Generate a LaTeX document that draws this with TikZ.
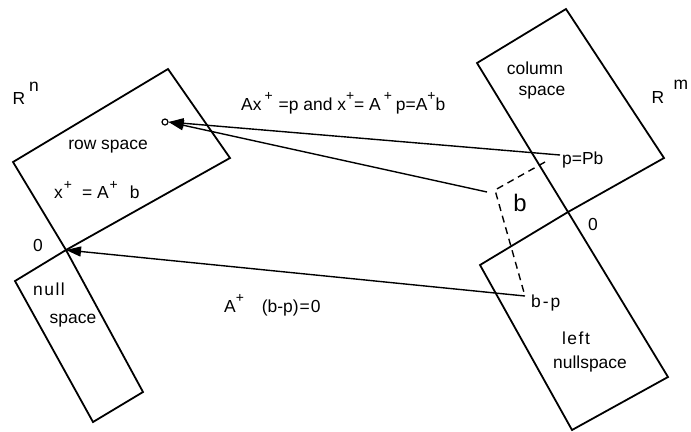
\documentclass[tikz,border=0pt]{standalone}
\usepackage{fontspec}
\setmainfont{Liberation Sans}
\usetikzlibrary{arrows.meta}
\newcommand\pl{\raisebox{0.55em}{\fontsize{14}{14}\selectfont +}}
\begin{document}
\begin{tikzpicture}[x=1bp,y=-1bp,
  space/.style={draw=black, line width=1.8pt, line join=miter},
  arr/.style={line width=1.4pt, -{Triangle[length=15bp,width=10bp]}},
  dashln/.style={line width=1.4pt, dash pattern=on 7bp off 5bp},
  lbl/.style={inner sep=0pt, font=\fontsize{17.5}{21}\selectfont},
  big/.style={inner sep=0pt, font=\fontsize{24}{27}\selectfont}]
\useasboundingbox (0,0) rectangle (691,431);
% subspaces
\draw[space] (13,162) -- (168,69) -- (230,158) -- (66,250) -- cycle;
\draw[space] (15,281) -- (66,250) -- (143,392) -- (93,422) -- cycle;
\draw[space] (477,63) -- (566,9) -- (664,158) -- (568,212) -- cycle;
\draw[space] (480,265) -- (568,212) -- (668,377) -- (572,430) -- cycle;
% points
\node[circle, draw, line width=1.2pt, minimum size=6bp, inner sep=0pt] (xp) at (165,122) {};
\coordinate (O1) at (66,250);
\coordinate (P) at (560,155);
\coordinate (B) at (487,192);
\coordinate (BP) at (525,296);
\coordinate (C) at (495,190);
\coordinate (Pd) at (545,162);
% connectors
\draw[arr] (P) -- (xp.east);
\draw[arr] (B) -- (xp.east);
\draw[arr] (BP) -- (O1);
\draw[dashln] (Pd) -- (C) -- (BP);
% labels
\node[lbl] (Rn) at (19,98) {R};
\node[lbl] (Rnn) at (34,87) {n};
\node[lbl] (rs) at (108,147) {row space};
\node[lbl, anchor=west] (xf) at (54,190) {x\hspace{1pt}\pl\hspace{10pt}= A\hspace{1pt}\pl\hspace{12pt}b};
\node[lbl] (z1) at (38,245) {0};
\node[lbl] (ns1) at (49,289) {n\hspace{1.5pt}u\hspace{1.5pt}l\hspace{1.5pt}l};
\node[lbl] (ns2) at (73,321) {space};
\node[lbl, anchor=west] (ap) at (224,305) {A\pl\hspace{18pt}(b-p)\hspace{1pt}=\hspace{1pt}0};
\node[lbl, anchor=west] (top) at (241,103) {Ax\hspace{3pt}\pl\hspace{6pt}=p and x\pl= A\hspace{3pt}\pl\hspace{4pt}p=A\pl b};
\node[lbl] (cs1) at (535,68) {column};
\node[lbl] (cs2) at (542,93) {space};
\node[lbl] (Rm) at (658,97) {R};
\node[lbl] (Rmm) at (681,85) {m};
\node[lbl, anchor=west] (pPb) at (562,160) {p=Pb};
\node[big] (bl) at (520,203) {b};
\node[lbl] (z2) at (593,224) {0};
\node[lbl, anchor=west] (bpl) at (531,303) {b\hspace{2pt}-\hspace{2pt}p};
\node[lbl] (ln1) at (576,338) {l\hspace{1.5pt}e\hspace{1.5pt}f\hspace{1.5pt}t};
\node[lbl] (ln2) at (590,364) {nullspace};
\end{tikzpicture}
\end{document}
